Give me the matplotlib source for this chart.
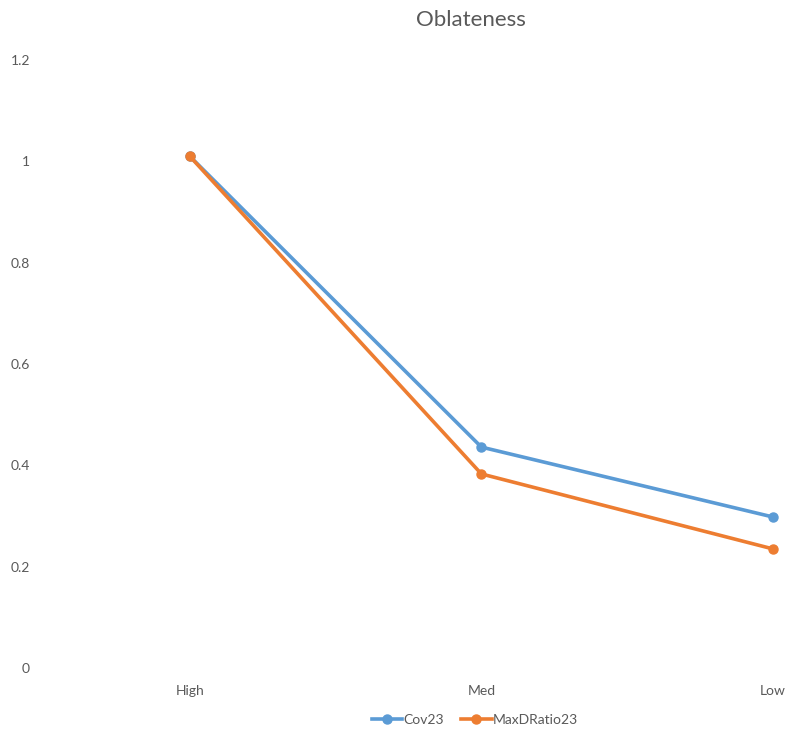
#!/usr/bin/env python3
import matplotlib
matplotlib.use('Agg')
from matplotlib import pyplot as plt

categories = ['High', 'Med', 'Low']
cov23 = [1.01, 0.436, 0.298]
maxdratio23 = [1.01, 0.383, 0.235]
yticks = [0, 0.2, 0.4, 0.6, 0.8, 1, 1.2]
ytick_labels = ['0', '0.2', '0.4', '0.6', '0.8', '1', '1.2']

plt.rcParams['font.family'] = ['Lato', 'DejaVu Sans']
grey = '#595959'

fig = plt.figure(figsize=(7.91, 7.38), dpi=100)
ax = fig.add_axes([44 / 791, 70 / 738, 1 - 44 / 791, 608 / 738])

x = list(range(len(categories)))
ax.plot(x, cov23, '-o', color='#5B9BD5', lw=2.6, ms=6.5, label='Cov23')
ax.plot(x, maxdratio23, '-o', color='#ED7D31', lw=2.6, ms=6.5, label='MaxDRatio23')

ax.set_ylim(0, 1.2)
ax.set_xlim(-0.5, 2 + 18 / 291.5)
ax.set_yticks(yticks)
ax.set_yticklabels(ytick_labels)
ax.set_xticks(x)
ax.set_xticklabels(categories)
for s in ax.spines.values():
    s.set_visible(False)
ax.tick_params(axis='both', which='both', length=0, colors=grey, labelsize=10)
ax.tick_params(axis='y', pad=10)
ax.tick_params(axis='x', pad=12)

fig.text(471 / 791, 1 - 20 / 738, 'Oblateness', fontsize=16, color=grey,
         ha='center', va='center')
fig.legend(loc='center', bbox_to_anchor=(475 / 791, 1 - 720 / 738), ncol=2,
           frameon=False, fontsize=10, labelcolor=grey, handlelength=2.2,
           handletextpad=0.1, columnspacing=1.2)

plt.savefig('out.png', dpi=100)
plt.close()
